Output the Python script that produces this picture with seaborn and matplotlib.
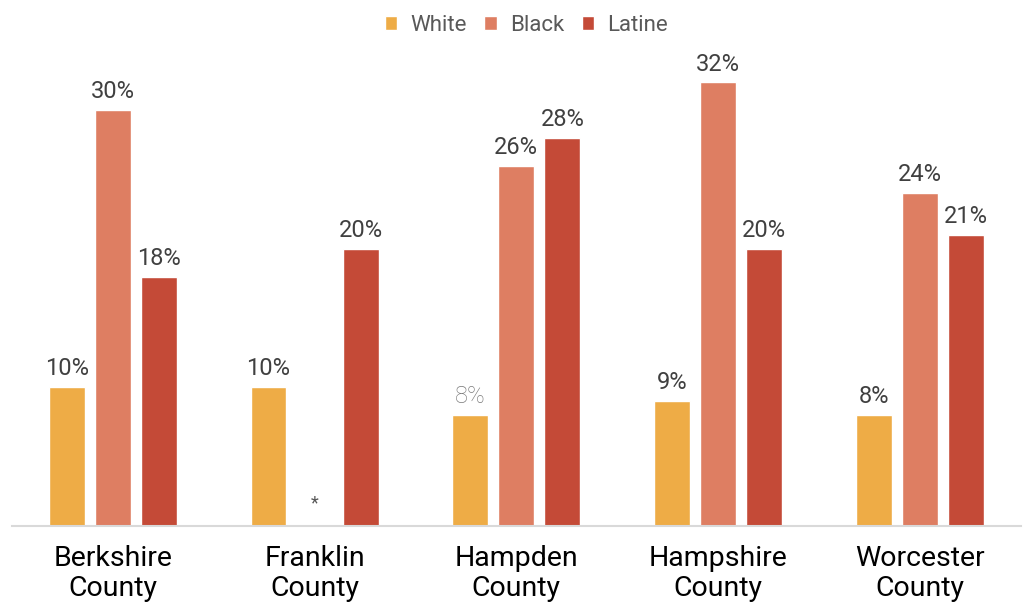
import numpy as np
import pandas as pd
import seaborn as sns
import matplotlib.pyplot as plt
from matplotlib.patches import Patch

# ---------------------------------------------------------
# DATA
# ---------------------------------------------------------

counties = ["Berkshire\nCounty", "Franklin\nCounty", "Hampden\nCounty",
            "Hampshire\nCounty", "Worcester\nCounty"]
groups = ["White", "Black", "Latine"]

white = [10, 10, 8, 9, 8]
black = [30, np.nan, 26, 32, 24]   # Franklin suppressed (*)
latine = [18, 20, 28, 20, 21]

colors = ["#EEAC46", "#DE7E62", "#C44A37"]

rows = []
for i, c in enumerate(counties):
    for g, vals in zip(groups, [white, black, latine]):
        rows.append({"County": c, "Group": g, "Pct": vals[i]})
df = pd.DataFrame(rows).dropna()

# ---------------------------------------------------------
# PLOT
# ---------------------------------------------------------

sns.set_style("white")
plt.rcParams["font.family"] = ["Roboto", "DejaVu Sans"]

fig = plt.figure(figsize=(10.26, 6.03), dpi=100)
ax = fig.add_axes([0.0117, 0.1277, 0.983, 0.8275])

sns.barplot(data=df, x="County", y="Pct", hue="Group", order=counties,
            hue_order=groups, palette=colors, width=0.685, gap=0.22,
            saturation=1, ax=ax, legend=False)

ax.set_xlim(-0.5, 4.5)
ax.set_ylim(0, 36)

for cont in ax.containers:
    labels = ax.bar_label(cont, fmt="%d%%", padding=5, fontsize=17,
                          color="#404040")
    for t in labels:
        if t.get_text() == "8%" and abs(t.xy[0] - 2 + 0.23) < 0.05:
            t.set_color("#7a7a7a")
            t.set_fontweight("light")

# asterisk where Franklin's Black value is suppressed
wbar = ax.containers[0].patches[1]
lbar = ax.containers[2].patches[1]
xmid = (wbar.get_x() + wbar.get_width() / 2 + lbar.get_x() + lbar.get_width() / 2) / 2
ax.text(xmid, 1.0, "*", ha="center", va="bottom", fontsize=13, color="#555555")

ax.set_xlabel("")
ax.set_ylabel("")
ax.set_yticks([])
ax.tick_params(axis="x", length=0, labelsize=20.5, labelcolor="black", pad=14)
for lbl in ax.get_xticklabels():
    lbl.set_linespacing(1.12)

for s in ["top", "right", "left"]:
    ax.spines[s].set_visible(False)
ax.spines["bottom"].set_color("#d9d9d9")
ax.spines["bottom"].set_linewidth(1.5)

handles = [Patch(facecolor=c, label=g) for g, c in zip(groups, colors)]
leg = ax.legend(handles=handles, loc="center", bbox_to_anchor=(0.51, 1.003),
                ncol=3, frameon=False, fontsize=16, handlelength=0.55,
                handleheight=0.55, handletextpad=0.6, columnspacing=0.8)
for t in leg.get_texts():
    t.set_color("#595959")

fig.savefig("out.png", dpi=100)
